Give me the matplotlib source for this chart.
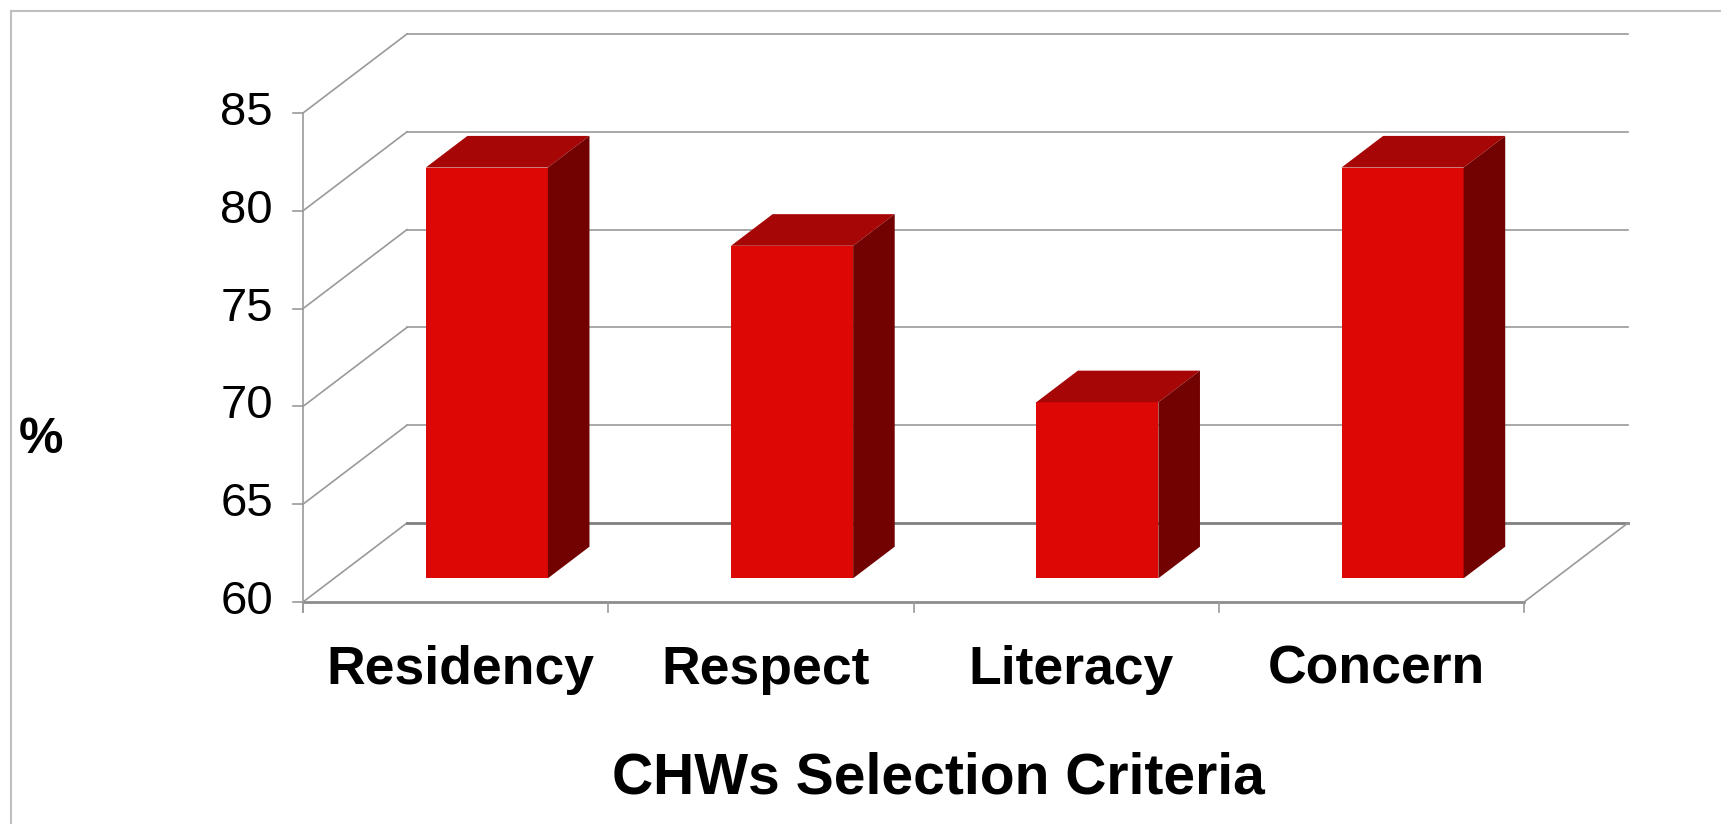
import numpy as np
import matplotlib.pyplot as plt
from matplotlib.patches import Polygon, Rectangle

plt.rcParams['font.family'] = ['Liberation Sans', 'DejaVu Sans']

# data
criteria = ['Residency', 'Respect', 'Literacy', 'Concern']
percent = [81, 77, 69, 81]
yticks = [60, 65, 70, 75, 80, 85]

# oblique depth offset of the 3d box (in category / value units)
DX = 0.3407
DY = 4.04
d_front = 0.3
d_back = 0.7
bw = 0.4

front_col = '#DD0806'
top_col = '#A60606'
side_col = '#720202'
grid_col = '#9A9A9A'


def proj(x, v, d):
    return (x + d*DX, v + d*DY)


fig = plt.figure(figsize=(17.21, 8.24), dpi=100)
ax = fig.add_axes([0, 0, 1, 1])
ax.set_xlim(-303/305.25, (1721-303)/305.25)
ax.set_ylim(60 - (824-602)/19.56, 60 + 602/19.56)
ax.axis('off')

# outer frame
fig.patches.append(Rectangle((11/1721, -0.1), 1.2, 1.1 - 11/824, transform=fig.transFigure,
                             fill=False, ec='#BFBFBF', lw=1.5))

n = len(criteria)
ymin = yticks[0]

# walls: left diagonals + back gridlines
for v in yticks:
    lw = 2.0 if v == ymin else 1.2
    c = '#808080' if v == ymin else grid_col
    ax.plot([0, DX], [v, v + DY], c=grid_col, lw=1.2)
    ax.plot([DX, n + DX], [v + DY, v + DY], c=c, lw=lw)
    ax.plot([-0.033, 0], [v, v], c=grid_col, lw=1.2)
    ax.text(-0.098, v, str(v), ha='right', va='center', fontsize=34)

# floor and axes
ax.plot([0, n], [ymin, ymin], c='#8C8C8C', lw=2.0)
ax.plot([n, n + DX], [ymin, ymin + DY], c=grid_col, lw=1.2)
ax.plot([0, 0], [ymin - 0.5, yticks[-1]], c=grid_col, lw=1.2)
for i in range(n + 1):
    ax.plot([i, i], [ymin, ymin - 0.5], c=grid_col, lw=1.2)

# bars
centers = np.arange(n) + 0.5
ax.bar(centers + d_front*DX, np.array(percent) - ymin, bottom=ymin + d_front*DY,
       width=bw, color=front_col, zorder=3)
for x, v in zip(centers, percent):
    l = x - bw/2
    r = x + bw/2
    top = [proj(l, v, d_front), proj(r, v, d_front), proj(r, v, d_back), proj(l, v, d_back)]
    side = [proj(r, ymin, d_front), proj(r, v, d_front), proj(r, v, d_back), proj(r, ymin, d_back)]
    ax.add_patch(Polygon(top, closed=True, fc=top_col, ec='none', zorder=3))
    ax.add_patch(Polygon(side, closed=True, fc=side_col, ec='none', zorder=3))

# labels
for x, name in zip(centers, criteria):
    ax.text(x + 0.015, 60 - (684-602)/19.56, name, ha='center', va='baseline',
            fontsize=38.5, fontweight='bold')
ax.text((938-303)/305.25, 60 - (793-602)/19.56, 'CHWs Selection Criteria',
        ha='center', va='baseline', fontsize=41, fontweight='bold')
ax.text((41-303)/305.25, 60 + (602-453)/19.56, '%', ha='center', va='baseline',
        fontsize=36, fontweight='bold')

plt.savefig('out.png', dpi=100)
